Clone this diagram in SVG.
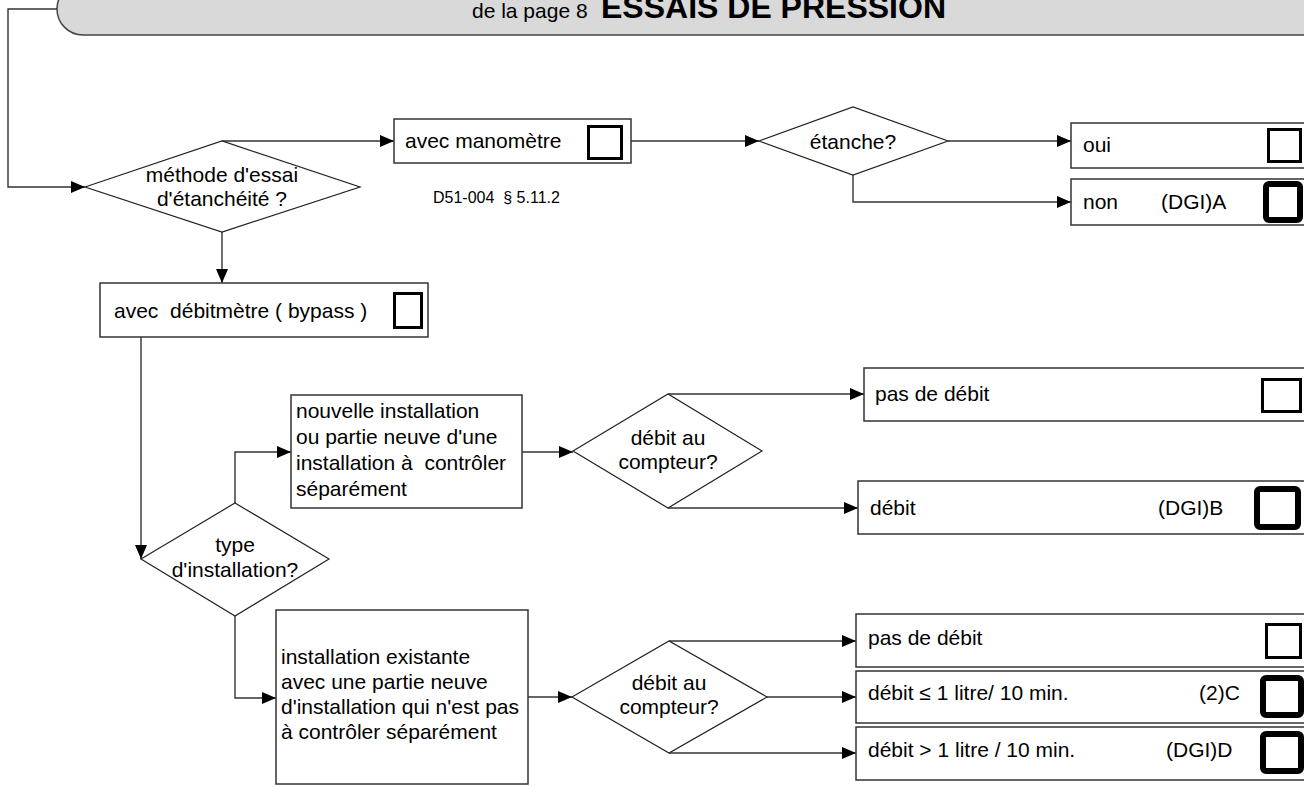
<svg xmlns="http://www.w3.org/2000/svg" width="1304" height="787" viewBox="0 0 1304 787">
<defs>
<marker id="arr" markerWidth="14" markerHeight="12" refX="14" refY="6" orient="auto" markerUnits="userSpaceOnUse">
<path d="M0,0 L14,6 L0,12 Z" fill="#000"/>
</marker>
<style>
text{white-space:pre}
.box{fill:#fff;stroke:#333;stroke-width:1.5}
.dia{fill:#fff;stroke:#222;stroke-width:1.2}
.cb{fill:#fff;stroke:#000;stroke-width:3}
.cbt{fill:#fff;stroke:#000;stroke-width:6}
.t{font-family:"Liberation Sans",Arial,sans-serif;font-size:21px;fill:#000}
.tc{font-family:"Liberation Sans",Arial,sans-serif;font-size:21px;fill:#000;text-anchor:middle}
.s{font-family:"Liberation Sans",Arial,sans-serif;font-size:16px;fill:#000}
.c{fill:none;stroke:#333;stroke-width:1.4;marker-end:url(#arr)}
</style>
</defs>
<rect width="1304" height="787" fill="#fff"/>

<g id="header">
<rect x="57" y="-17" width="1300" height="52" rx="26" ry="26" fill="#d9d9d9" stroke="#444" stroke-width="1.5"/>
<text x="472" y="18" class="t">de la page 8</text>
<text x="601" y="18" font-family="Liberation Sans,Arial,sans-serif" font-size="32" font-weight="bold">ESSAIS DE PRESSION</text>
</g>

<g id="connectors">
<path class="c" d="M57,9 H8 V187 H85"/>
<path class="c" d="M222,141 H394"/>
<path class="c" d="M222,232 V283"/>
<path class="c" d="M631,141 H759"/>
<path class="c" d="M948,141 H1071"/>
<path class="c" d="M853,175 V202 H1071"/>
<path class="c" d="M141,337 V559"/>
<path class="c" d="M235,503 V452 H291"/>
<path class="c" d="M522,452 H573"/>
<path class="c" d="M668,394 H864"/>
<path class="c" d="M668,508 H858"/>
<path class="c" d="M235,616 V698 H276"/>
<path class="c" d="M528,697 H572"/>
<path class="c" d="M669,641 H856"/>
<path class="c" d="M767,697 H856"/>
<path class="c" d="M669,753 H856"/>
</g>

<g id="methode">
<polygon class="dia" points="85,187 222,141 360,187 222,232"/>
<text x="222" y="182" class="tc">méthode d'essai</text>
<text x="222" y="206" class="tc">d'étanchéité ?</text>
</g>

<g id="ref">
<text x="433" y="203" class="s" font-size="16.5">D51-004  § 5.11.2</text>
</g>

<g id="manometre">
<rect class="box" x="394" y="119" width="237" height="44"/>
<text x="405" y="148" class="t">avec manomètre</text>
<rect class="cb" x="588.5" y="126.5" width="33" height="32"/>
</g>

<g id="etanche">
<polygon class="dia" points="759,141 853,107 948,141 853,175"/>
<text x="853" y="149" class="tc">étanche?</text>
</g>

<g id="oui">
<rect class="box" x="1071" y="123" width="250" height="45"/>
<text x="1083" y="152" class="t">oui</text>
<rect class="cb" x="1268.5" y="129.5" width="32" height="32"/>
</g>

<g id="non">
<rect class="box" x="1071" y="179" width="250" height="46"/>
<text x="1083" y="209" class="t">non</text>
<text x="1161" y="209" class="t">(DGI)A</text>
<rect class="cbt" x="1266" y="184" width="34" height="36" rx="3"/>
</g>

<g id="debitmetre">
<rect class="box" x="100" y="283" width="328" height="54"/>
<text x="114" y="318" class="t">avec  débitmètre ( bypass )</text>
<rect class="cb" x="394.5" y="293.5" width="27" height="34"/>
</g>

<g id="type">
<polygon class="dia" points="141,559 235,503 329,559 235,616"/>
<text x="235" y="552" class="tc">type</text>
<text x="235" y="577" class="tc">d'installation?</text>
</g>

<g id="nouvelle">
<rect class="box" x="291" y="395" width="231" height="113"/>
<text x="296" y="418" class="t">nouvelle installation</text>
<text x="296" y="444" class="t">ou partie neuve d'une</text>
<text x="296" y="470" class="t">installation à  contrôler</text>
<text x="296" y="496" class="t">séparément</text>
</g>

<g id="compteur1">
<polygon class="dia" points="573,451 668,394 762,451 668,508"/>
<text x="668" y="445" class="tc">débit au</text>
<text x="668" y="469" class="tc">compteur?</text>
</g>

<g id="pasdebit1">
<rect class="box" x="864" y="368" width="450" height="53"/>
<text x="875" y="401" class="t">pas de débit</text>
<rect class="cb" x="1262.5" y="379.5" width="38" height="32"/>
</g>

<g id="debitB">
<rect class="box" x="858" y="481" width="456" height="53"/>
<text x="870" y="515" class="t">débit</text>
<text x="1158" y="515" class="t">(DGI)B</text>
<rect class="cbt" x="1257" y="489" width="41" height="38" rx="3"/>
</g>

<g id="existante">
<rect class="box" x="276" y="610" width="252" height="174"/>
<text x="281" y="664" class="t">installation existante</text>
<text x="281" y="689" class="t">avec une partie neuve</text>
<text x="281" y="714" class="t">d'installation qui n'est pas</text>
<text x="281" y="739" class="t">à contrôler séparément</text>
</g>

<g id="compteur2">
<polygon class="dia" points="572,697 669,641 767,697 669,753"/>
<text x="669" y="690" class="tc">débit au</text>
<text x="669" y="714" class="tc">compteur?</text>
</g>

<g id="pasdebit2">
<rect class="box" x="856" y="614" width="458" height="53"/>
<text x="868" y="645" class="t">pas de débit</text>
<rect class="cb" x="1266.5" y="624.5" width="34" height="33"/>
</g>

<g id="debitC">
<rect class="box" x="856" y="671" width="458" height="52"/>
<text x="868" y="700" class="t">débit ≤ 1 litre/ 10 min.</text>
<text x="1199" y="700" class="t">(2)C</text>
<rect class="cbt" x="1263" y="678" width="38" height="37" rx="3"/>
</g>

<g id="debitD">
<rect class="box" x="856" y="727" width="458" height="53"/>
<text x="868" y="757" class="t">débit &gt; 1 litre / 10 min.</text>
<text x="1166" y="757" class="t">(DGI)D</text>
<rect class="cbt" x="1263" y="734" width="38" height="37" rx="3"/>
</g>
</svg>
